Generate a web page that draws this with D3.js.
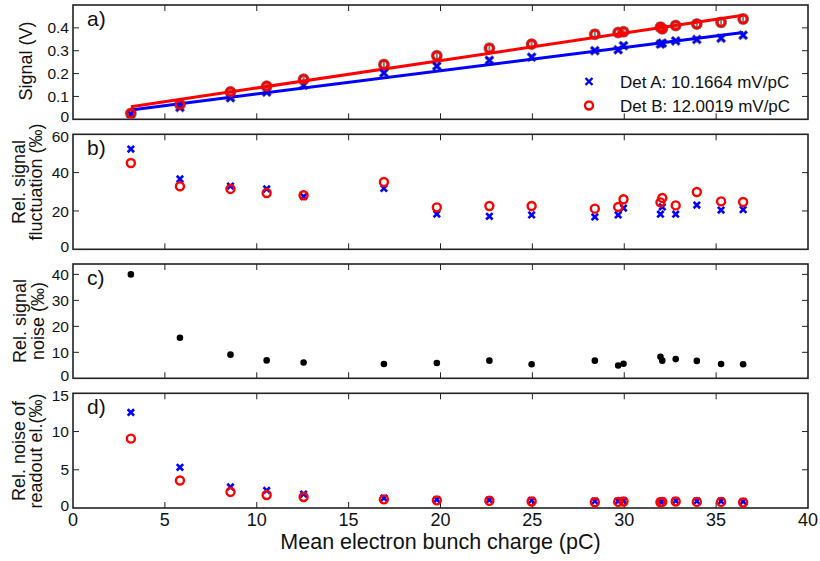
<!DOCTYPE html>
<html><head><meta charset="utf-8">
<script src="https://cdn.jsdelivr.net/npm/d3@7"></script>
<style>
body{margin:0;background:#fff;}
svg{display:block;font-family:"Liberation Sans",Arial,sans-serif;}
</style></head>
<body><svg id="chart" width="820" height="561"></svg>
<script>
// ---- data ----
const charge   = [3.15,5.82,8.57,10.54,12.55,16.92,19.8,22.66,24.96,28.4,29.67,29.96,31.97,32.07,32.8,33.95,35.27,36.47];
const signalA  = [0.023,0.052,0.094,0.119,0.149,0.203,0.233,0.258,0.272,0.300,0.304,0.322,0.329,0.333,0.343,0.349,0.355,0.368];
const signalB  = [0.026,0.065,0.120,0.145,0.175,0.240,0.278,0.311,0.329,0.372,0.380,0.383,0.403,0.396,0.410,0.417,0.424,0.439];
const errA     = [0.006,0.007,0.007,0.007,0.008,0.009,0.009,0.009,0.008,0.009,0.009,0.010,0.010,0.010,0.009,0.010,0.010,0.010];
const errB     = [0.007,0.009,0.010,0.010,0.012,0.016,0.014,0.016,0.012,0.016,0.014,0.014,0.016,0.015,0.013,0.015,0.017,0.018];
const fitSlope = [10.1664, 12.0019];   // mV/pC
const fitIntercept = [0.009, 0.017];   // V
const flucA    = [52.3,36.7,33.0,31.5,27.5,31.8,18.4,17.2,17.9,16.9,17.9,21.5,18.3,22.1,18.3,23.1,20.5,20.7];
const flucB    = [45.0,32.9,31.5,29.4,28.2,35.1,21.9,22.6,22.6,21.2,22.1,26.1,24.5,26.8,22.9,29.9,25.0,24.7];
const noise    = [40.0,15.6,9.1,6.9,6.1,5.5,5.9,6.8,5.4,6.8,4.9,5.6,8.3,6.8,7.4,6.7,5.5,5.4];
const readoutA = [12.5,5.32,2.75,2.3,1.83,1.3,1.1,1.05,1.0,0.9,0.9,0.95,0.85,0.9,0.95,0.9,0.9,0.85];
const readoutB = [9.07,3.6,2.1,1.7,1.44,1.13,1.0,0.95,0.85,0.75,0.8,0.85,0.75,0.8,0.85,0.8,0.8,0.72];
const xTicks   = [0,5,10,15,20,25,30,35,40];
const ticksA   = [0,0.1,0.2,0.3,0.4];
const ticksB   = [0,20,40,60];
const ticksC   = [0,10,20,30,40];
const ticksD   = [0,5,10,15];
const legendLabels = ["Det A: 10.1664 mV/pC","Det B: 12.0019 mV/pC"];
const panelLabels = ["a)","b)","c)","d)"];
const xTitle = "Mean electron bunch charge (pC)";

// ---- layout ----
const svg = d3.select("#chart");
const X0 = 73, X1 = 808;
const x = d3.scaleLinear().domain([0,40]).range([X0,X1]);
const panels = [
  {top:5,   bot:119.3, dom:[0,0.5], ticks:ticksA, fmt:d=>d===0?"0":d3.format(".1f")(d), ylab:["Signal (V)"], labC:61, labX:[26]},
  {top:134.3,bot:249.3, dom:[0,60], ticks:ticksB, fmt:d3.format("d"), ylab:["Rel. signal","fluctuation (‰)"], labC:182, labX:[19,36]},
  {top:264, bot:378.3, dom:[0,44], ticks:ticksC, fmt:d3.format("d"), ylab:["Rel. signal","noise (‰)"], labC:321, labX:[20,38]},
  {top:393.3,bot:508, dom:[0,15], ticks:ticksD, fmt:d3.format("d"), ylab:["Rel. noise of","readout el.(‰)"], labC:451, labX:[19,36]}
];
panels.forEach(p=>{ p.y = d3.scaleLinear().domain(p.dom).range([p.bot,p.top]); });

const BLUE="#0000ff", RED="#ff0000", AX="#222";

function crossPath(s){ return `M${-s},${-s}L${s},${s}M${-s},${s}L${s},${-s}`; }

panels.forEach((p,i)=>{
  const g = svg.append("g");
  const tl = 6;
  xTicks.filter(t=>t>0&&t<40).forEach(t=>{
    g.append("line").attr("x1",x(t)).attr("x2",x(t)).attr("y1",p.bot).attr("y2",p.bot-tl).attr("stroke",AX).attr("stroke-width",1);
    g.append("line").attr("x1",x(t)).attr("x2",x(t)).attr("y1",p.top).attr("y2",p.top+tl).attr("stroke",AX).attr("stroke-width",1);
  });
  p.ticks.forEach(t=>{
    let yy = p.y(t);
    if(t>p.dom[0] && yy>p.top+1){
      g.append("line").attr("x1",X0).attr("x2",X0+tl).attr("y1",yy).attr("y2",yy).attr("stroke",AX).attr("stroke-width",1);
      g.append("line").attr("x1",X1).attr("x2",X1-tl).attr("y1",yy).attr("y2",yy).attr("stroke",AX).attr("stroke-width",1);
    }
    if(t===p.dom[0]) yy -= 2.5;
    if(yy <= p.top+1) yy += 2.5;
    g.append("text").attr("x",X0-4).attr("y",yy).attr("dy","0.36em").attr("text-anchor","end")
      .attr("font-size",15.5).attr("fill","#111").text(p.fmt(t));
  });
  g.append("rect").attr("x",X0).attr("y",p.top).attr("width",X1-X0).attr("height",p.bot-p.top)
    .attr("fill","none").attr("stroke",AX).attr("stroke-width",1.6);
  g.append("text").attr("x",87).attr("y",p.top+21).attr("font-size",21).attr("fill","#111").text(panelLabels[i]);
  p.ylab.forEach((s,k)=>{
    g.append("text").attr("transform",`translate(${p.labX[k]},${p.labC}) rotate(-90)`)
      .attr("text-anchor","middle").attr("dy","0.35em").attr("font-size",18).attr("fill","#111").text(s);
  });
});

// x tick labels (bottom panel) and title
const pd = panels[3];
xTicks.forEach(t=>{
  svg.append("text").attr("x",x(t)).attr("y",pd.bot+18).attr("text-anchor","middle")
    .attr("font-size",18).attr("fill","#111").text(t);
});
svg.append("text").attr("x",(X0+X1)/2).attr("y",549).attr("text-anchor","middle")
  .attr("font-size",21.5).attr("fill","#111").text(xTitle);

// ---- panel a ----
const pa = panels[0];
const ga = svg.append("g");
const GRAY="#808080";
[[signalA,errA],[signalB,errB]].forEach(([vals,errs])=>{
  charge.forEach((c,j)=>{
    const cx=x(c), y1=pa.y(vals[j]-errs[j]), y2=pa.y(vals[j]+errs[j]);
    ga.append("line").attr("x1",cx).attr("x2",cx).attr("y1",y1).attr("y2",y2).attr("stroke",GRAY).attr("stroke-width",2);
    ga.append("line").attr("x1",cx-4).attr("x2",cx+4).attr("y1",y1).attr("y2",y1).attr("stroke",GRAY).attr("stroke-width",2);
    ga.append("line").attr("x1",cx-4).attr("x2",cx+4).attr("y1",y2).attr("y2",y2).attr("stroke",GRAY).attr("stroke-width",2);
  });
});
charge.forEach((c,j)=>{
  ga.append("path").attr("d",crossPath(4)).attr("transform",`translate(${x(c)},${pa.y(signalA[j])})`).attr("stroke",GRAY).attr("stroke-width",3.5).attr("fill","none");
  ga.append("circle").attr("cx",x(c)).attr("cy",pa.y(signalB[j])).attr("r",4.2).attr("stroke",GRAY).attr("stroke-width",3.5).attr("fill","none");
});
const xmin=d3.min(charge), xmax=d3.max(charge);
[BLUE,RED].forEach((col,k)=>{
  const f = v=>fitIntercept[k]+fitSlope[k]/1000*v;
  ga.append("line").attr("x1",x(xmin)).attr("x2",x(xmax)).attr("y1",pa.y(f(xmin))).attr("y2",pa.y(f(xmax)))
    .attr("stroke",col).attr("stroke-width",3);
});
charge.forEach((c,j)=>{
  ga.append("path").attr("d",crossPath(3.5)).attr("transform",`translate(${x(c)},${pa.y(signalA[j])})`).attr("stroke",BLUE).attr("stroke-width",2.4).attr("fill","none");
});
charge.forEach((c,j)=>{
  ga.append("circle").attr("cx",x(c)).attr("cy",pa.y(signalB[j])).attr("r",4).attr("stroke",RED).attr("stroke-width",2.6).attr("fill","none");
});
// legend
const lg = svg.append("g");
lg.append("path").attr("d",crossPath(3.5)).attr("transform","translate(589,81.5)").attr("stroke",BLUE).attr("stroke-width",2.4).attr("fill","none");
lg.append("circle").attr("cx",589).attr("cy",105.5).attr("r",4).attr("stroke",RED).attr("stroke-width",2.4).attr("fill","none");
lg.append("text").attr("x",620).attr("y",81.5).attr("dy","0.36em").attr("font-size",17).attr("fill","#111").text(legendLabels[0]);
lg.append("text").attr("x",620).attr("y",105.5).attr("dy","0.36em").attr("font-size",17).attr("fill","#111").text(legendLabels[1]);

// ---- panel b / d ----
[[panels[1],flucA,flucB],[panels[3],readoutA,readoutB]].forEach(([p,A,B])=>{
  const g = svg.append("g");
  charge.forEach((c,j)=>{
    g.append("path").attr("d",crossPath(3.2)).attr("transform",`translate(${x(c)},${p.y(A[j])})`).attr("stroke",BLUE).attr("stroke-width",2.6).attr("fill","none");
  });
  charge.forEach((c,j)=>{
    g.append("circle").attr("cx",x(c)).attr("cy",p.y(B[j])).attr("r",4).attr("stroke",RED).attr("stroke-width",2.4).attr("fill","none");
  });
});

// ---- panel c ----
const pc = panels[2];
charge.forEach((c,j)=>{
  svg.append("circle").attr("cx",x(c)).attr("cy",pc.y(noise[j])).attr("r",3.3).attr("fill","#000");
});
</script></body></html>
